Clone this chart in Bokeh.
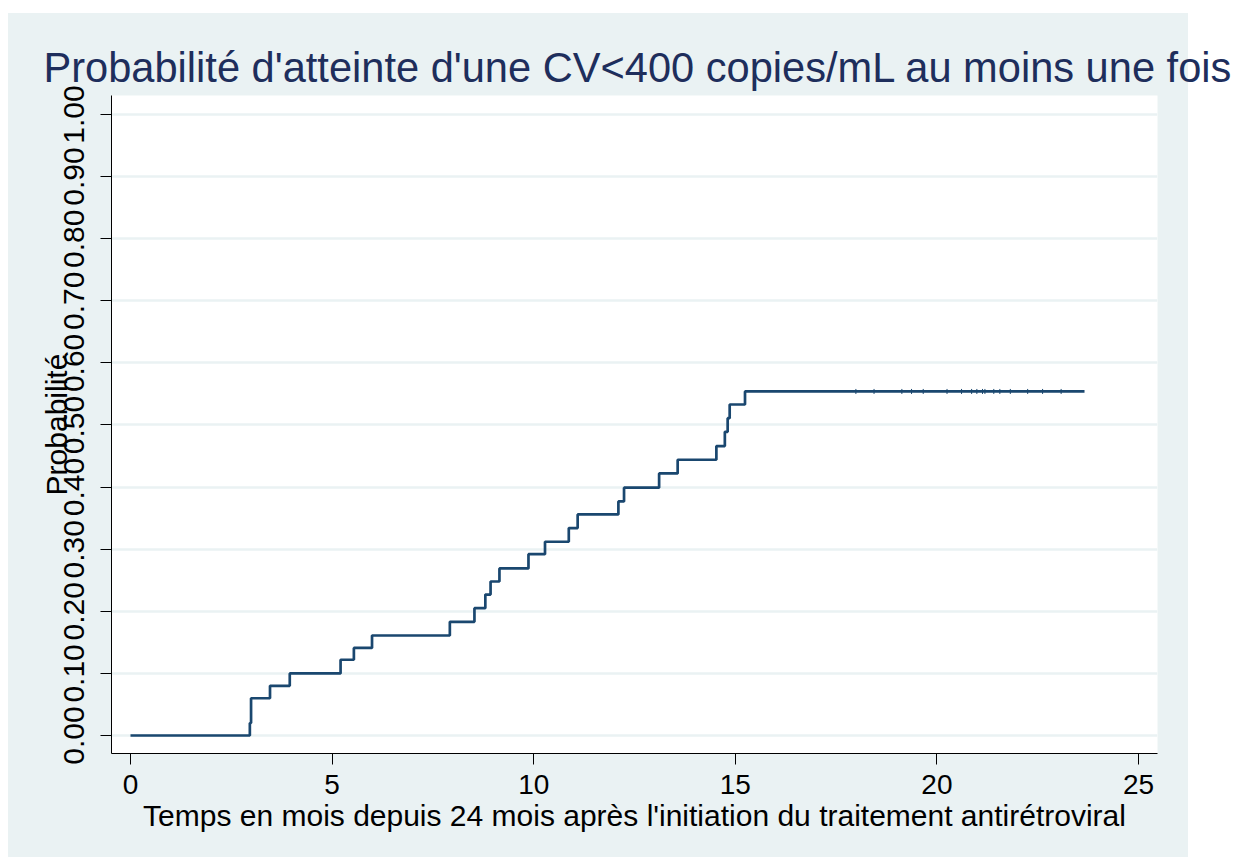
import math
from bokeh.plotting import figure
from bokeh.models import Range1d, FixedTicker
from bokeh.embed import file_html
from bokeh.resources import INLINE

# ---- data ----
event_times = [0, 2.96, 2.99, 3.46, 3.95, 5.21, 5.54, 5.99, 7.92, 8.53, 8.80, 8.93,
               9.15, 9.87, 10.28, 10.87, 11.09, 12.10, 12.24, 13.11, 13.57, 14.53,
               14.74, 14.81, 14.86, 15.24, 23.66]
cum_prob = [0.0, 0.020, 0.060, 0.080, 0.100, 0.122, 0.141, 0.161, 0.183, 0.205, 0.227,
            0.248, 0.269, 0.292, 0.312, 0.334, 0.356, 0.377, 0.399, 0.422, 0.444,
            0.466, 0.489, 0.511, 0.533, 0.554, 0.554]
censor_times = [17.99, 18.44, 19.13, 19.37, 19.66, 20.25, 20.61, 20.86, 20.99, 21.13,
                21.19, 21.41, 21.56, 21.82, 22.25, 22.62, 23.08]
x_ticks = [0, 5, 10, 15, 20, 25]
y_ticks = [0.0, 0.1, 0.2, 0.3, 0.4, 0.5, 0.6, 0.7, 0.8, 0.9, 1.0]
y_tick_labels = ["0.00", "0.10", "0.20", "0.30", "0.40", "0.50", "0.60", "0.70",
                 "0.80", "0.90", "1.00"]
title_text = "Probabilité d'atteinte d'une CV<400 copies/mL au moins une fois"
x_label = "Temps en mois depuis 24 mois après l'initiation du traitement antirétroviral"
y_label = "Probabilité"

FONT = "Liberation Sans"
LINE = "#1A476F"
BG = "#EAF2F3"
NAVY = "#1E2E5C"

p = figure(width=1235, height=857,
           x_range=Range1d(-0.471, 25.47), y_range=Range1d(-0.029, 1.0306),
           output_backend="svg", toolbar_location=None,
           min_border_left=111, min_border_right=78,
           min_border_top=95, min_border_bottom=104)

p.styles = {
    "background-color": "white",
    "background-image": f"linear-gradient({BG}, {BG})",
    "background-repeat": "no-repeat",
    "background-position": "8px 13px",
    "background-size": "1180px 846px",
}
p.border_fill_color = None
p.background_fill_color = "white"
p.outline_line_color = None

p.title.text = title_text
p.title.text_font = FONT
p.title.text_font_size = "41.6px"
p.title.text_font_style = "normal"
p.title.text_color = NAVY
p.title.align = "left"
p.title.offset = -68
p.title.standoff = 9

p.step(event_times, cum_prob, mode="after", line_color=LINE, line_width=2.7)
p.scatter(censor_times, [cum_prob[-1]] * len(censor_times), marker="dash",
          angle=math.pi / 2, size=5, line_color=LINE, line_width=1)

# axes
for ax in (p.xaxis[0], p.yaxis[0]):
    ax.axis_line_color = "black"
    ax.axis_line_width = 1
    ax.major_tick_line_color = "black"
    ax.major_tick_out = 11
    ax.major_tick_in = 0
    ax.minor_tick_line_color = None
    ax.major_label_text_font = FONT
    ax.major_label_text_color = "black"
    ax.axis_label_text_font = FONT
    ax.axis_label_text_font_size = "30px"
    ax.axis_label_text_font_style = "normal"
    ax.axis_label_text_color = "black"

p.xaxis.ticker = FixedTicker(ticks=x_ticks)
p.xaxis.axis_label = x_label
p.xaxis.major_label_text_font_size = "28px"
p.xaxis.major_label_standoff = 10
p.xaxis.axis_label_standoff = 2

p.yaxis.ticker = FixedTicker(ticks=y_ticks)
p.yaxis.major_label_overrides = {t: s for t, s in zip(y_ticks, y_tick_labels)}
p.yaxis.major_label_orientation = "vertical"
p.yaxis.major_label_text_font_size = "30px"
p.yaxis.axis_label = y_label
p.yaxis.major_label_standoff = 16
p.yaxis.axis_label_standoff = -11

p.xgrid.grid_line_color = None
p.ygrid.grid_line_color = BG
p.ygrid.grid_line_width = 2.5

open("out.html", "w").write(file_html(p, INLINE))
